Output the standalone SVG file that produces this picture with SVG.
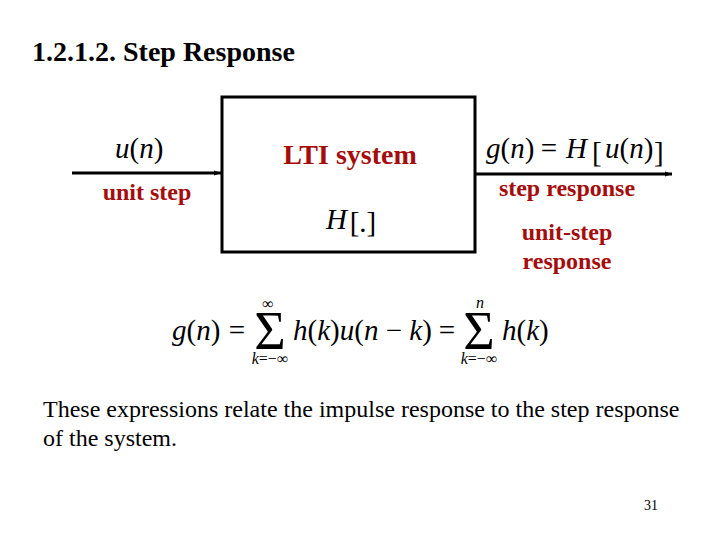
<svg xmlns="http://www.w3.org/2000/svg" width="720" height="540" viewBox="0 0 720 540">
<style>
.t{font-family:"Liberation Serif","Times New Roman",serif;fill:#000}
.r{font-family:"Liberation Serif","Times New Roman",serif;font-weight:bold;fill:#a50d0d;text-anchor:middle}
.m{font-family:"Liberation Serif","Times New Roman",serif;fill:#000;font-size:29px}
.i{font-style:italic}
.s{font-family:"Liberation Serif","Times New Roman",serif;fill:#000;font-size:54px;text-anchor:middle}
.l{font-family:"Liberation Serif","Times New Roman",serif;fill:#000;font-size:16px;text-anchor:middle}
</style>
<defs>
<marker id="ah" markerWidth="8" markerHeight="8" refX="7" refY="4" orient="auto" markerUnits="userSpaceOnUse">
<path d="M0,1.5 L7,4 L0,6.5 Z" fill="#000"/>
</marker>
</defs>
<rect width="720" height="540" fill="#fff"/>
<text class="t" x="32" y="61" font-size="28" font-weight="bold">1.2.1.2. Step Response</text>
<g id="connectors">
<line x1="72" y1="173" x2="221" y2="173" stroke="#000" stroke-width="3" marker-end="url(#ah)"/>
<line x1="475" y1="174" x2="672" y2="174" stroke="#000" stroke-width="3" marker-end="url(#ah)"/>
</g>
<g id="input">
<text class="m" x="115" y="158" font-size="30"><tspan class="i">u</tspan>(<tspan class="i">n</tspan>)</text>
<text class="r" x="147" y="200" font-size="24">unit step</text>
</g>
<g id="system">
<rect x="222" y="97" width="253" height="155" fill="none" stroke="#000" stroke-width="3"/>
<text class="r" x="350" y="164" font-size="28">LTI system</text>
<text class="m i" x="326" y="229">H</text>
<text class="m" x="363" y="232" font-size="40" text-anchor="middle">[.]</text>
</g>
<g id="output">
<text class="m" x="486" y="158"><tspan class="i">g</tspan>(<tspan class="i">n</tspan>)</text>
<text class="m" x="549" y="158" text-anchor="middle">=</text>
<text class="m i" x="566" y="158">H</text>
<text class="m" x="592" y="162" font-size="42">[</text>
<text class="m" x="605" y="158" font-size="28"><tspan class="i">u</tspan>(<tspan class="i">n</tspan>)</text>
<text class="m" x="654" y="162" font-size="42">]</text>
<text class="r" x="567" y="196" font-size="24">step response</text>
<text class="r" x="567" y="240" font-size="24">unit-step</text>
<text class="r" x="567" y="269" font-size="24">response</text>
</g>
<g id="equation">
<text class="m" x="172" y="340"><tspan class="i">g</tspan>(<tspan class="i">n</tspan>)</text>
<text class="m" x="237" y="340" text-anchor="middle">=</text>
<text class="s" x="270" y="349">Σ</text>
<text class="l" x="268" y="309" font-size="17">∞</text>
<text class="l" x="270" y="364"><tspan class="i">k</tspan>=−∞</text>
<text class="m" x="293" y="340"><tspan class="i">h</tspan>(<tspan class="i">k</tspan>)<tspan class="i">u</tspan>(<tspan class="i">n</tspan> − <tspan class="i">k</tspan>)</text>
<text class="m" x="447" y="340" text-anchor="middle">=</text>
<text class="s" x="479" y="349">Σ</text>
<text class="l i" x="480" y="308">n</text>
<text class="l" x="479" y="364"><tspan class="i">k</tspan>=−∞</text>
<text class="m" x="502" y="340"><tspan class="i">h</tspan>(<tspan class="i">k</tspan>)</text>
</g>
<text class="t" x="43" y="417" font-size="24">These expressions relate the impulse response to the step response</text>
<text class="t" x="43" y="446" font-size="24">of the system.</text>
<text class="t" x="651" y="510" font-size="14" text-anchor="middle">31</text>
</svg>
